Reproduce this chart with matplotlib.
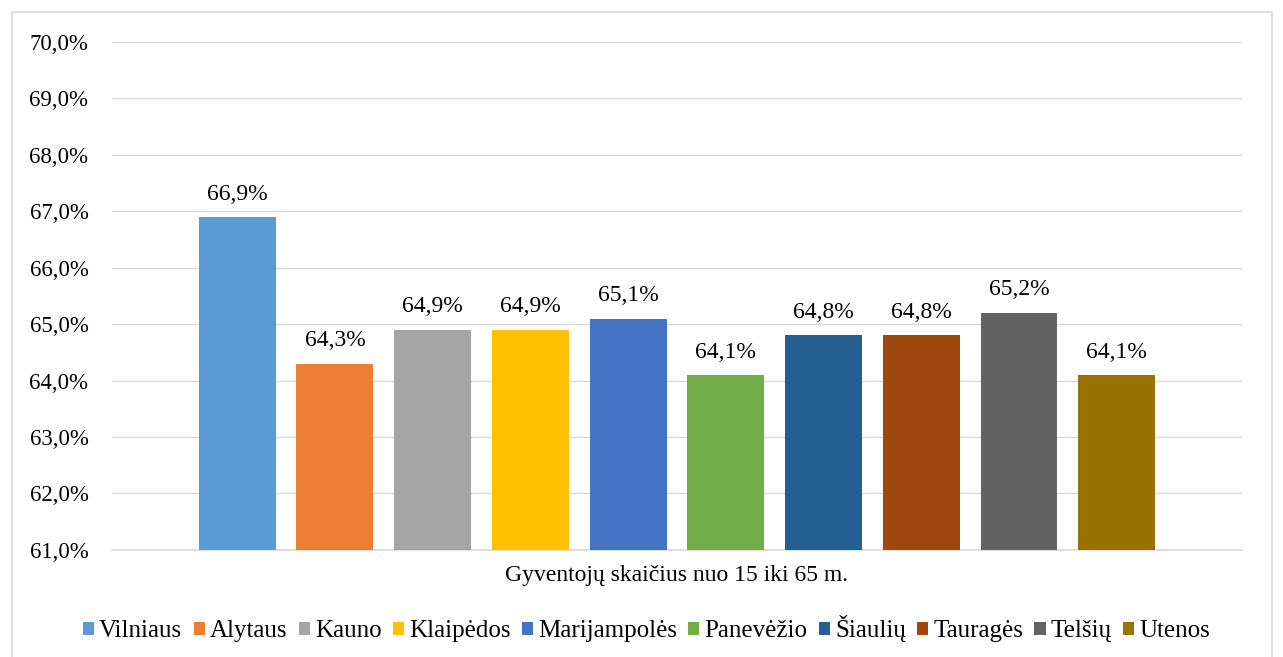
import matplotlib.pyplot as plt
from matplotlib.patches import Rectangle
import numpy as np

plt.rcParams['font.family'] = ['Liberation Serif', 'DejaVu Serif']

category = 'Gyventojų skaičius nuo 15 iki 65 m.'
regions = ['Vilniaus', 'Alytaus', 'Kauno', 'Klaipėdos', 'Marijampolės',
           'Panevėžio', 'Šiaulių', 'Tauragės', 'Telšių', 'Utenos']
values = [66.9, 64.3, 64.9, 64.9, 65.1, 64.1, 64.8, 64.8, 65.2, 64.1]
colors = ['#5b9bd5', '#ed7d31', '#a5a5a5', '#ffc000', '#4472c4',
          '#70ad47', '#255e91', '#9e480e', '#636363', '#997300']
yticks = np.arange(61, 70.5, 1)

fig = plt.figure(figsize=(12.83, 6.57), dpi=100)
ax = fig.add_axes([0.0873, 0.163, 0.8807, 0.773])

step = 0.0865
width = 0.068
for i, (name, v, c) in enumerate(zip(regions, values, colors)):
    x = (i - 4.5) * step
    ax.bar(x, v - 61, bottom=61, width=width, color=c, label=name, zorder=3)
    ax.text(x, v + 0.22, f'{v:.1f}%'.replace('.', ','), ha='center', va='bottom',
            fontsize=17)

ax.set_xlim(-0.5, 0.5)
ax.set_ylim(61, 70)
ax.set_yticks(yticks)
ax.set_yticklabels([f'{t:.1f}%'.replace('.', ',') for t in yticks], fontsize=16.5)
ax.set_xticks([0])
ax.set_xticklabels([category], fontsize=17)
ax.tick_params(axis='both', length=0)
ax.tick_params(axis='y', pad=17)
ax.tick_params(axis='x', pad=11)
ax.grid(axis='y', color='#d9d9d9', linewidth=1, zorder=0)
for s in ['top', 'right', 'left']:
    ax.spines[s].set_visible(False)
ax.spines['bottom'].set_color('#d9d9d9')
ax.spines['bottom'].set_linewidth(1.2)

ax.legend(loc='center', bbox_to_anchor=(0.473, -0.155), ncol=10, frameon=False,
          fontsize=18, handlelength=0.45, handleheight=0.45, handletextpad=0.2,
          columnspacing=0.45, borderaxespad=0)

fig.patches.append(Rectangle((12 / 1283, -0.05), 1260 / 1283, 1.05 - 12 / 657,
                             transform=fig.transFigure, fill=False,
                             edgecolor='#d9d9d9', linewidth=1.2))

fig.savefig('out.png', dpi=100)
